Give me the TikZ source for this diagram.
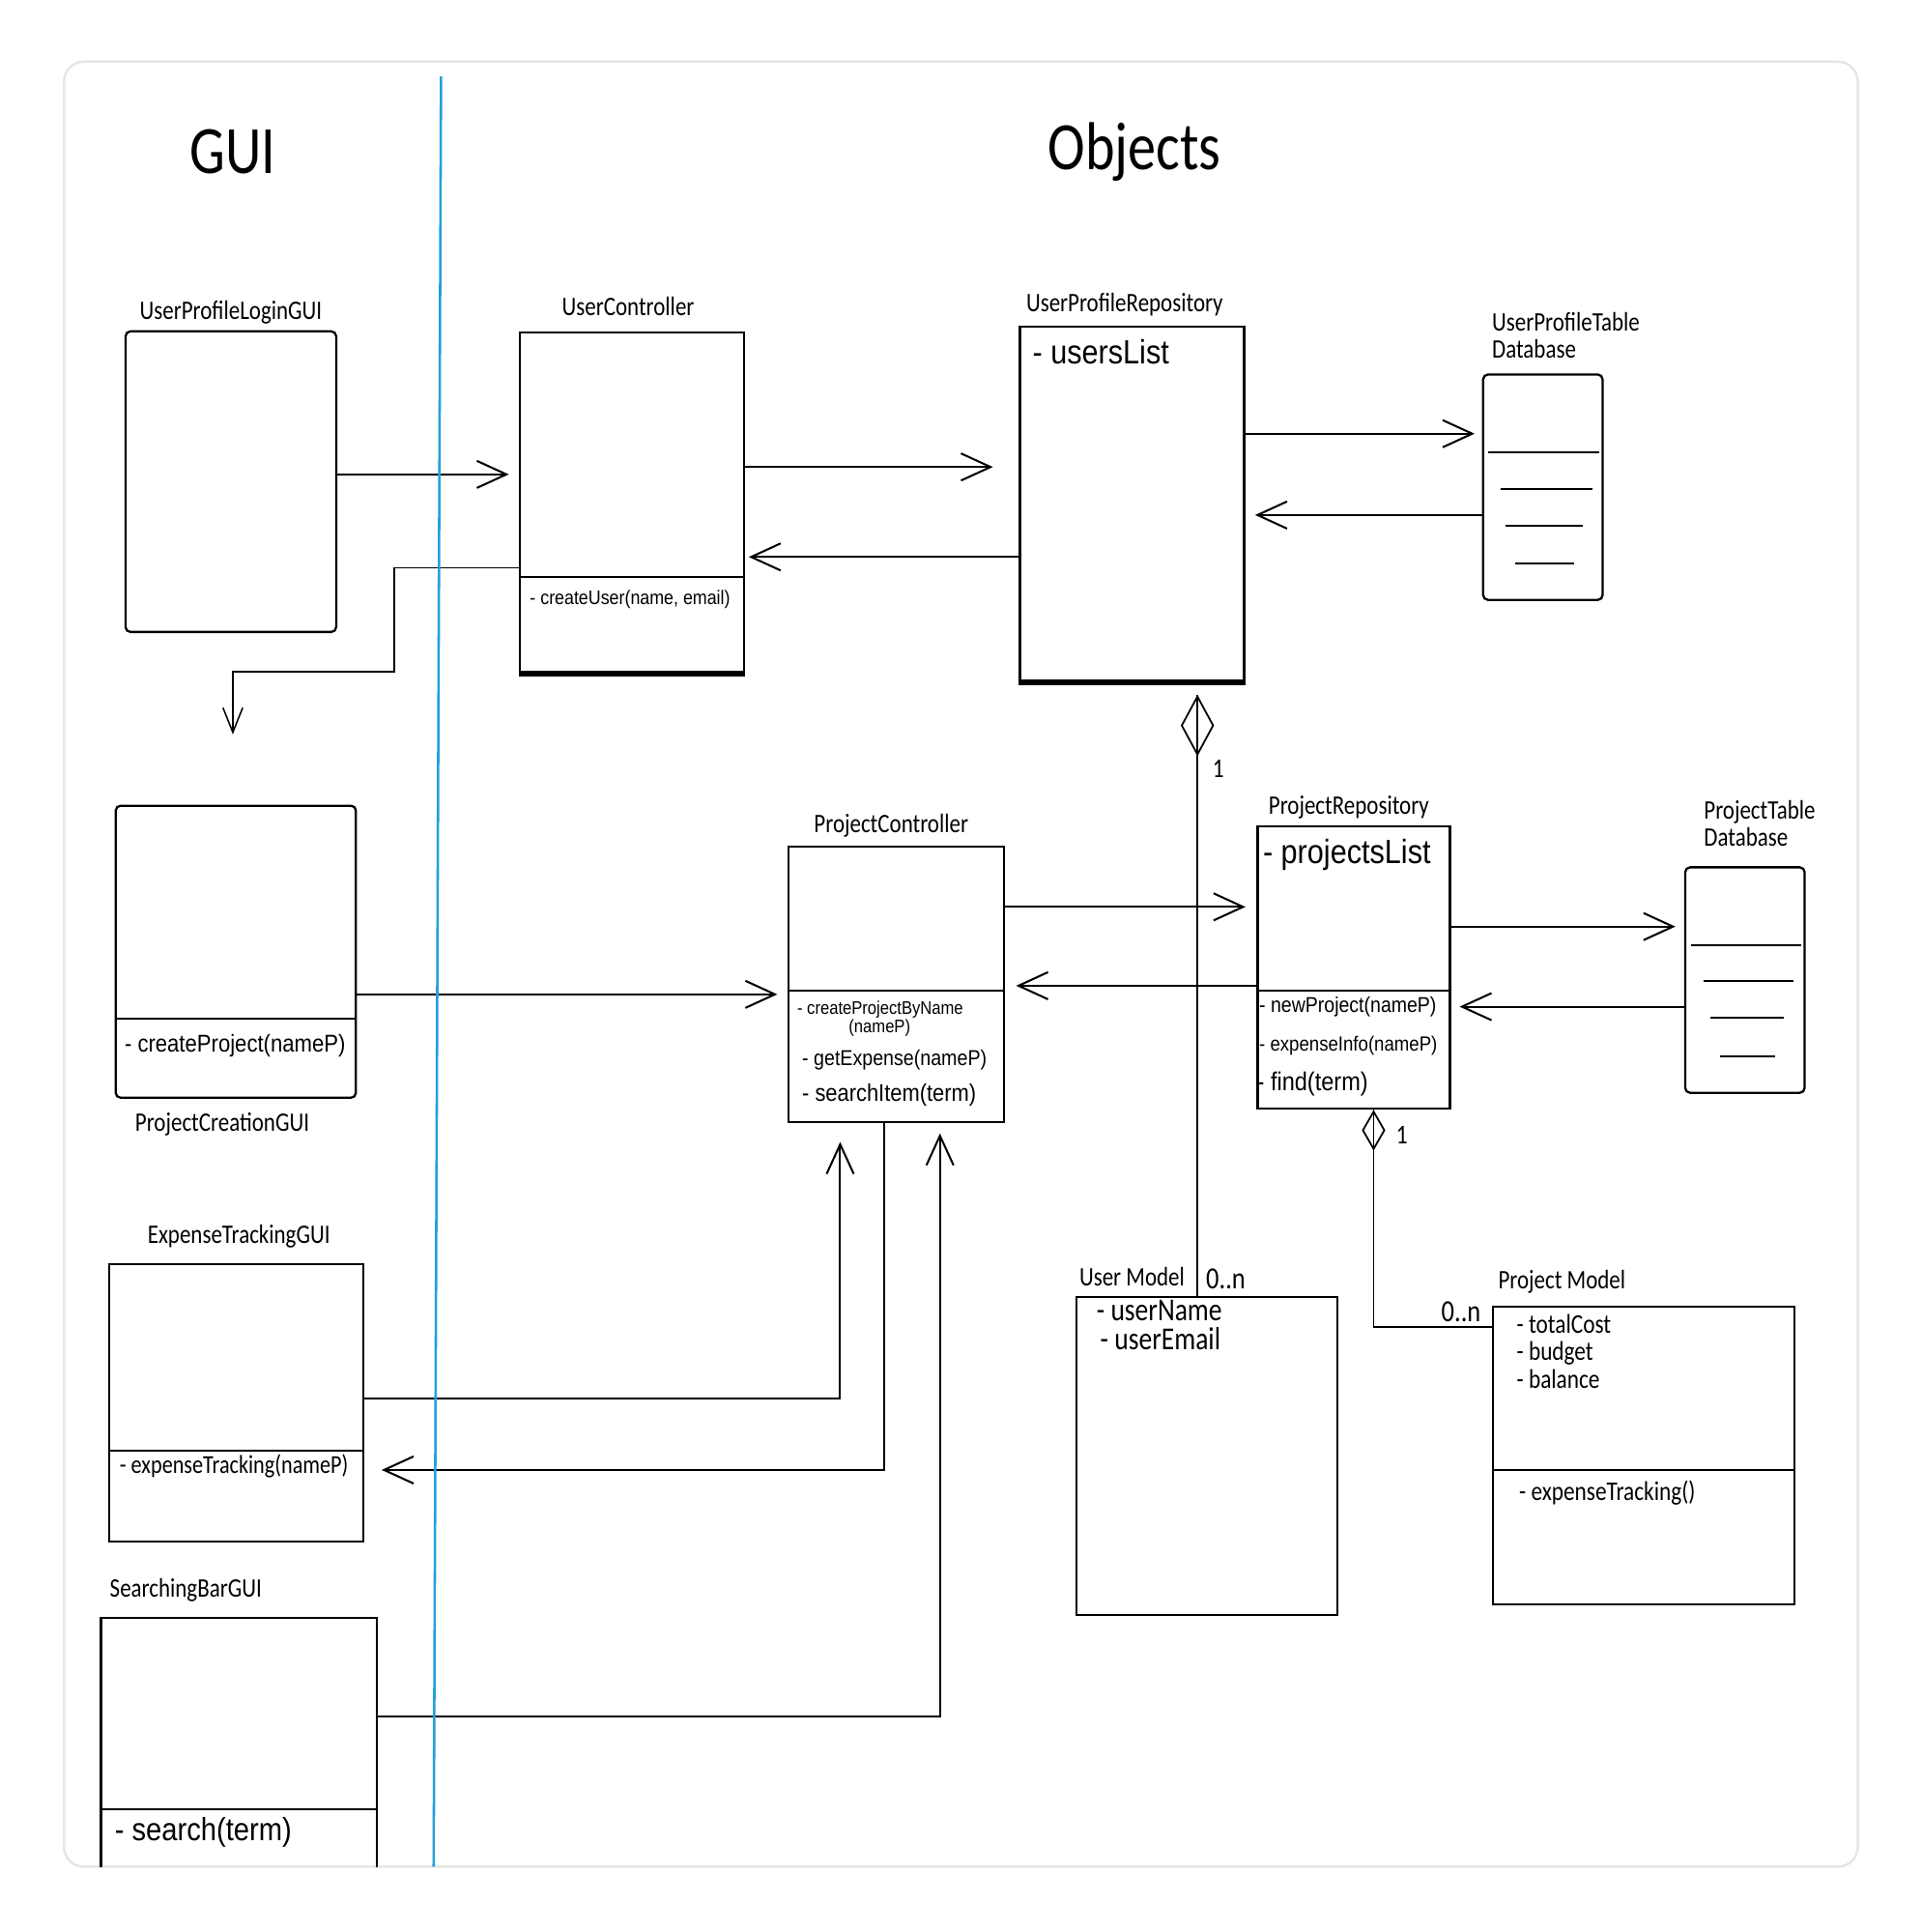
\documentclass[tikz,border=0pt]{standalone}
\usepackage{fontspec}
\setmainfont{Carlito}
\newfontfamily\labfont[FakeStretch=0.83]{Carlito}
\newfontfamily\memfont[FakeStretch=0.88]{Liberation Sans}
\usetikzlibrary{positioning,arrows.meta}
\definecolor{laneblue}{RGB}{35,160,220}
\definecolor{cardline}{RGB}{230,230,230}

\begin{document}
\begin{tikzpicture}[
  x=1pt, y=-1pt,
  cls/.style={draw, line width=1.8pt, anchor=north west, inner sep=0pt},
  store/.style={cls, rounded corners=4pt},
  title/.style={font={\labfont\fontsize{55}{60}\selectfont}, inner sep=0pt},
  lab/.style={font={\labfont\fontsize{21.7}{22}\selectfont}, inner sep=0pt},
  attr/.style={anchor=base west, inner sep=0pt, font={\labfont\fontsize{#1}{#1}\selectfont}},
  meth/.style={anchor=base west, inner sep=0pt, font={\memfont\fontsize{#1}{#1}\selectfont}},
  mult/.style={inner sep=0pt, font={\labfont\fontsize{#1}{#1}\selectfont}},
  sep/.style={line width=1.6pt},
  row/.style={line width=1.6pt},
  arr/.style={line width=1.6pt, -{Straight Barb[length=24pt, width=22pt]}},
  thinarr/.style={line width=1.2pt, -{Straight Barb[length=20pt, width=16pt]}},
  link/.style={line width=1.4pt},
  bigagg/.style={link, -{Diamond[open, length=50pt, width=27pt]}},
  smallagg/.style={link, -{Diamond[open, length=33pt, width=19pt]}},
  card/.style={draw=cardline, fill=white, line width=2pt, rounded corners=16pt},
  lane/.style={draw=laneblue, line width=2pt},
]
  \useasboundingbox (0,0) rectangle (1560,1568);
  \draw[card] (52,50) rectangle (1508,1515);

  % titles
  \node[title] (guititle) at (189,123) {GUI};
  \node[title] (objtitle) at (921,123) {Objects};

  % user side
  \node[cls, rounded corners=4pt, minimum width=171, minimum height=244] (uplg) at (101,268) {};
  \node[cls, minimum width=182, minimum height=276] (uc) at (421,269) {};
  \node[cls, minimum width=182, minimum height=288] (upr) at (827,264) {};
  \node[store, minimum width=97, minimum height=183] (updb) at (1203,303) {};

  \node[lab, above=9pt of uplg.north, anchor=base] (uplglab) {UserProfileLoginGUI};
  \node[lab, above=13pt of uc.north, anchor=base, xshift=-3pt] (uclab) {UserController};
  \node[lab, above=11pt of upr.north, anchor=base, xshift=-6pt] (uprlab) {UserProfileRepository};
  \node[lab, align=left, above right=12pt and 8pt of updb.north west] (updblab) {UserProfileTable\\Database};

  \node[meth=15.9] (ucm) at (430,491) {- createUser(name, email)};
  \node[meth=27.3] (uprm) at (838,295) {- usersList};

  % project side
  \node[cls, rounded corners=4pt, minimum width=195, minimum height=237] (pcg) at (93,653) {};
  \node[cls, minimum width=175, minimum height=224] (pc) at (639,686) {};
  \node[cls, minimum width=156, minimum height=229] (pr) at (1020,670) {};
  \node[store, minimum width=97, minimum height=183] (ptdb) at (1367,703) {};

  \node[lab, below=26pt of pcg.south, anchor=base, xshift=-11pt] (pcglab) {ProjectCreationGUI};
  \node[lab, above=10pt of pc.north, anchor=base, xshift=-4pt] (pclab) {ProjectController};
  \node[lab, above=9pt of pr.north, anchor=base, xshift=-4pt] (prlab) {ProjectRepository};
  \node[lab, align=left, above right=16pt and 16pt of ptdb.north west] (ptdblab) {ProjectTable\\Database};

  \node[meth=19.7] (pcgm) at (101,854) {- createProject(nameP)};
  \node[meth=14.8] (pcm1) at (647,823) {- createProjectByName};
  \node[meth=14.8, anchor=base] (pcm2) at (714,838) {(nameP)};
  \node[meth=17.5] (pcm3) at (651,865) {- getExpense(nameP)};
  \node[meth=19.5] (pcm4) at (651,894) {- searchItem(term)};
  \node[meth=27.3] (prm) at (1025,701) {- projectsList};
  \node[meth=17.4] (prm1) at (1022,822) {- newProject(nameP)};
  \node[meth=16.6] (prm2) at (1022,853) {- expenseInfo(nameP)};
  \node[meth=21] (prm3) at (1020,885) {- find(term)};

  % lower GUIs
  \node[cls, minimum width=206, minimum height=225] (etg) at (88,1025) {};
  \begin{scope}
    \clip (0,0) rectangle (1560,1515);
    \node[cls, minimum width=224, minimum height=240] (sb) at (81,1312) {};
  \end{scope}
  \node[lab, above=16pt of etg.north, anchor=base, xshift=2pt] (etglab) {ExpenseTrackingGUI};
  \node[lab, above right=16pt and 8pt of sb.north west, anchor=base west] (sblab) {SearchingBarGUI};
  \node[attr=21] (etgm) at (97,1196) {- expenseTracking(nameP)};
  \node[meth=26] (sbm) at (93,1494) {- search(term)};

  % models
  \node[cls, line width=1.6pt, minimum width=212, minimum height=258] (um) at (873,1052) {};
  \node[cls, line width=1.6pt, minimum width=245, minimum height=241] (pm) at (1211,1060) {};
  \node[lab, above right=8pt and 3pt of um.north west, anchor=base west] (umlab) {User Model};
  \node[lab, above right=14pt and 5pt of pm.north west, anchor=base west] (pmlab) {Project Model};
  \node[attr=26] (umm1) at (890,1072) {- userName};
  \node[attr=26] (umm2) at (893,1095) {- userEmail};
  \node[attr=22] (pmm1) at (1231,1082) {- totalCost};
  \node[attr=22] (pmm2) at (1231,1104) {- budget};
  \node[attr=22] (pmm3) at (1231,1127) {- balance};
  \node[attr=22] (pmm4) at (1233,1218) {- expenseTracking()};

  % dividers, heavy bottoms, table rows
  \foreach \n/\y in {uc/468, pcg/827, pc/804, pr/804, etg/1177, sb/1468, pm/1193}
    \draw[sep] (\n.west |- 0,\y) -- (\n.east |- 0,\y);
  \foreach \n in {uc, upr}
    \draw[line width=4.5pt] (\n.south west) -- (\n.south east);
  \foreach \y/\a/\b in {367/1208/1298, 397/1218/1293, 427/1222/1285, 457/1230/1278,
                        767/1373/1462, 796/1383/1456, 826/1388/1448, 857/1396/1441}
    \draw[row] (\a,\y) -- (\b,\y);

  % connectors, top row
  \draw[arr, shorten >=8pt] (uplg.east |- 0,385) -- (uc.west |- 0,385);
  \draw[arr, shorten >=21pt] (uc.east |- 0,379) -- (upr.west |- 0,379);
  \draw[arr, shorten >=3pt] (upr.west |- 0,452) -- (uc.east |- 0,452);
  \draw[arr, shorten >=6pt] (upr.east |- 0,352) -- (updb.west |- 0,352);
  \draw[arr, shorten >=8pt] (updb.west |- 0,418) -- (upr.east |- 0,418);
  \coordinate (bend) at (320,545);
  \coordinate (drop) at (189,596);
  \draw[thinarr] (uc.west |- 0,461) -| (bend) -| (drop);

  % connectors, middle row
  \draw[arr, shorten >=8pt] (pcg.east |- 0,807) -- (pc.west |- 0,807);
  \draw[arr, shorten >=9pt] (pc.east |- 0,736) -- (pr.west |- 0,736);
  \draw[arr, shorten >=9pt] (pr.west |- 0,800) -- (pc.east |- 0,800);
  \draw[arr, shorten >=7pt] (pr.east |- 0,752) -- (ptdb.west |- 0,752);
  \draw[arr, shorten >=7pt] (ptdb.west |- 0,817) -- (pr.east |- 0,817);

  % connectors, lower GUIs
  \draw[arr, shorten >=15pt] (etg.east |- 0,1135) -| (pc.south -| 682,0);
  \draw[arr, shorten >=14pt] (pc.south -| 718,0) |- (etg.east |- 0,1193);
  \draw[arr, shorten >=8pt] (sb.east |- 0,1393) -| (pc.south -| 763,0);

  % aggregations (line runs through the diamond)
  \draw[bigagg, shorten >=10pt] (um.north -| 972,0) -- (upr.south -| 972,0);
  \draw[link, shorten >=10pt] (um.north -| 972,0) -- (upr.south -| 972,0);
  \node[mult=22] (m1) at (989,624) {1};
  \node[mult=25] (m2) at (995,1038) {0..n};
  \draw[smallagg] (pm.west |- 0,1077) -| (pr.south -| 1115,0);
  \draw[link] (pm.west |- 0,1077) -| (pr.south -| 1115,0);
  \node[mult=22] (m3) at (1138,921) {1};
  \node[mult=25] (m4) at (1186,1065) {0..n};

  % lane divider
  \draw[lane] (358,62) -- (352,1515);
\end{tikzpicture}
\end{document}
